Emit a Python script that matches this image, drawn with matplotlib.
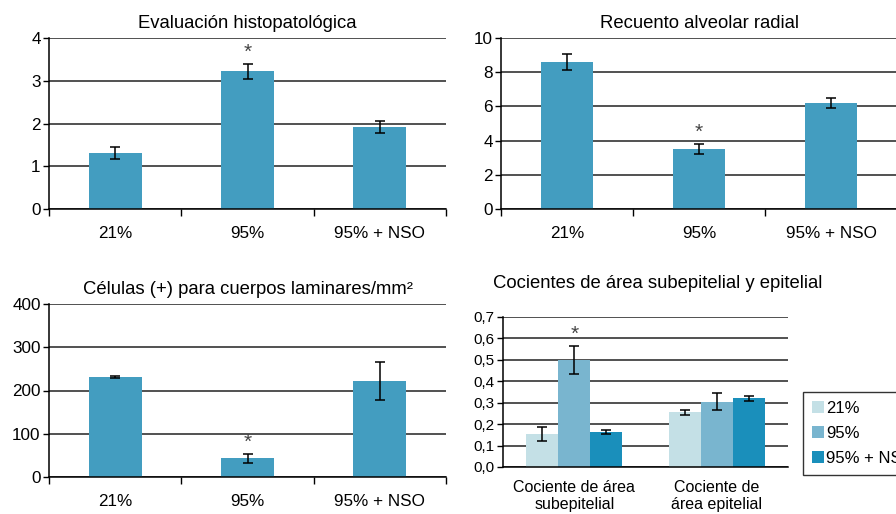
import numpy as np
import matplotlib
matplotlib.use('Agg')
import matplotlib.pyplot as plt

plt.rcParams['font.family'] = ['Liberation Sans', 'DejaVu Sans']

W, H = 896, 514

groups = ['21%', '95%', '95% + NSO']

# panel data
histo = [1.30, 3.22, 1.92]
histo_err = [0.14, 0.17, 0.15]
rac = [8.60, 3.52, 6.20]
rac_err = [0.45, 0.30, 0.32]
cells = [232, 43, 222]
cells_err = [2, 10, 44]

area_cats = ['Cociente de área\nsubepitelial', 'Cociente de\nárea epitelial']
area_21 = [0.155, 0.255]
area_95 = [0.500, 0.305]
area_nso = [0.165, 0.320]
area_21_err = [0.032, 0.012]
area_95_err = [0.065, 0.040]
area_nso_err = [0.010, 0.010]

bar_col = '#439dc0'
cols4 = ['#c4e0e6', '#79b5cf', '#1a8fbb']

fig = plt.figure(figsize=(W / 100, H / 100), dpi=100)


def px_axes(l, t, r, b):
    return fig.add_axes([l / W, 1 - b / H, (r - l) / W, (b - t) / H])


def style(ax):
    ax.spines['top'].set_visible(False)
    ax.spines['right'].set_visible(False)
    ax.spines['left'].set_linewidth(1.1)
    ax.spines['bottom'].set_linewidth(1.1)
    ax.yaxis.grid(True, color='#222222', linewidth=1.1)
    ax.set_axisbelow(True)
    ax.tick_params(axis='y', length=4, width=1, labelsize=12.3, pad=2)


def star(ax, x, top):
    ax.annotate('*', (x, top), xytext=(0, 2),
                textcoords='offset pixels', ha='center', va='bottom',
                fontsize=15, color='#444444')


def simple(ax, vals, errs, ymax, step, title, s):
    x = np.arange(len(groups))
    ax.bar(x, vals, width=0.4, color=bar_col, zorder=2)
    ax.errorbar(x, vals, yerr=errs, fmt='none', ecolor='black',
                elinewidth=1.1, capsize=3.5, capthick=1.1, zorder=3)
    ax.set_xlim(-0.5, 2.5)
    ax.set_ylim(0, ymax)
    ax.set_yticks(np.arange(0, ymax + step / 2, step))
    ax.set_xticks([-0.5, 0.5, 1.5, 2.5])
    ax.set_xticklabels([])
    ax.tick_params(axis='x', length=5, width=1, direction='out')
    ax.set_xticks(x, minor=True)
    ax.set_xticklabels(groups, minor=True, fontsize=12.3)
    ax.tick_params(axis='x', which='minor', length=0, pad=12)
    style(ax)
    ax.set_title(title, fontsize=13.3, pad=7)
    star(ax, s, vals[s] + errs[s])


ax1 = px_axes(49, 38, 446, 209)
simple(ax1, histo, histo_err, 4, 1, 'Evaluación histopatológica', 1)

ax2 = px_axes(501, 38, 897, 209)
simple(ax2, rac, rac_err, 10, 2, 'Recuento alveolar radial', 1)

ax3 = px_axes(49, 304, 446, 477)
simple(ax3, cells, cells_err, 400, 100, 'Células (+) para cuerpos laminares/mm²', 1)

ax4 = px_axes(503, 317, 788, 467)
x4 = np.arange(len(area_cats))
bw = 0.225
for i, (v, e, c, lab) in enumerate(zip([area_21, area_95, area_nso],
                                         [area_21_err, area_95_err, area_nso_err],
                                         cols4, groups)):
    xi = x4 + (i - 1) * bw
    ax4.bar(xi, v, width=bw, color=c, label=lab, zorder=2)
    ax4.errorbar(xi, v, yerr=e, fmt='none', ecolor='black',
                 elinewidth=1.1, capsize=3.5, capthick=1.1, zorder=3)
ax4.set_xlim(-0.5, 1.5)
ax4.set_ylim(0, 0.7)
ax4.set_yticks(np.arange(0, 0.71, 0.1))
ax4.set_yticklabels([f'{t:.1f}'.replace('.', ',') for t in np.arange(0, 0.71, 0.1)])
ax4.set_xticks(x4)
ax4.set_xticklabels(area_cats, fontsize=11.5, linespacing=1.25)
ax4.tick_params(axis='x', length=0, pad=9)
style(ax4)
ax4.tick_params(axis='y', labelsize=11)
star(ax4, x4[0], area_95[0] + area_95_err[0])
fig.text(493 / W, 1 - 284 / H, 'Cocientes de área subepitelial y epitelial',
         fontsize=13.3, ha='left', va='center')
leg = ax4.legend(loc='upper left', bbox_to_anchor=(803 / W, 1 - 392 / H),
                 bbox_transform=fig.transFigure, frameon=True, fancybox=False,
                 edgecolor='black', fontsize=12, handlelength=0.7,
                 handleheight=0.7, handletextpad=0.15, borderpad=0.55,
                 labelspacing=0.6, borderaxespad=0)
leg.get_frame().set_linewidth(1)

fig.savefig('out.png', dpi=100)
